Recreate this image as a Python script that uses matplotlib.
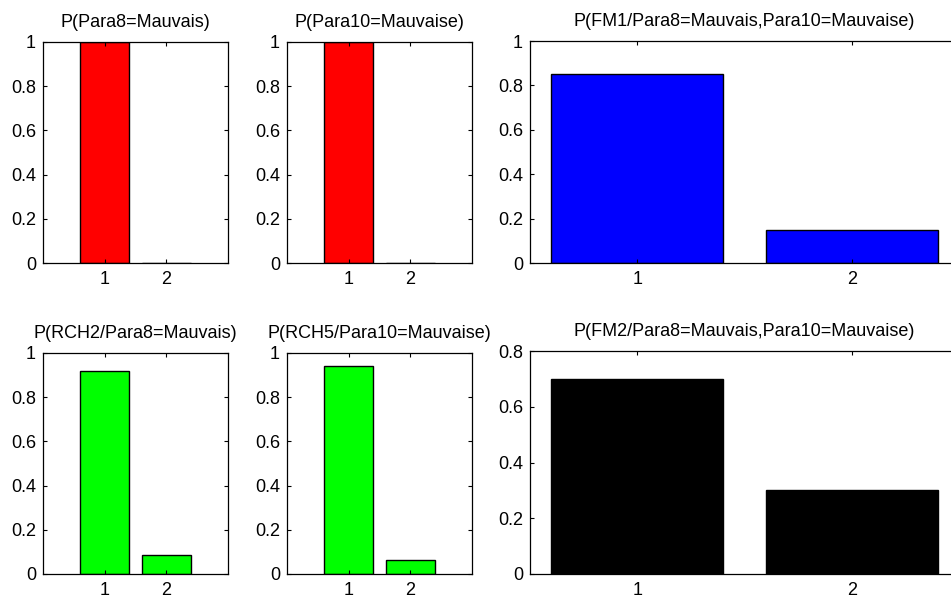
import matplotlib
matplotlib.use("Agg")
import matplotlib.pyplot as plt
from matplotlib.ticker import FuncFormatter

# data
states = [1, 2]
p_para8 = [1.0, 0.0]
p_para10 = [1.0, 0.0]
p_fm1 = [0.85, 0.15]
p_rch2 = [0.92, 0.085]
p_rch5 = [0.94, 0.065]
p_fm2 = [0.70, 0.30]

titles = ["P(Para8=Mauvais)", "P(Para10=Mauvaise)",
          "P(FM1/Para8=Mauvais,Para10=Mauvaise)",
          "P(RCH2/Para8=Mauvais)", "P(RCH5/Para10=Mauvaise)",
          "P(FM2/Para8=Mauvais,Para10=Mauvaise)"]

plt.rcParams['font.family'] = ['Liberation Sans', 'DejaVu Sans']
plt.rcParams['font.size'] = 13

W, H = 951, 599
fig = plt.figure(figsize=(W / 100, H / 100), dpi=100)


def px_axes(x0, y0, x1, y1):
    # pixel box (top-left origin) -> figure fraction
    return fig.add_axes([x0 / W, 1 - y1 / H, (x1 - x0) / W, (y1 - y0) / H])


def fmt(v, pos):
    return "%g" % round(v, 2)


def draw(ax, vals, color, title, xlim, ylim):
    ax.bar(states, vals, width=0.8, color=color, edgecolor='black', linewidth=1.0)
    ax.set_xlim(*xlim)
    ax.set_ylim(*ylim)
    ax.set_xticks(states)
    ax.yaxis.set_major_formatter(FuncFormatter(fmt))
    ax.tick_params(direction='in', length=3, top=True, right=True, width=0.8,
                   labelsize=13)
    ax.tick_params(axis='y', pad=5)
    ax.tick_params(axis='x', pad=6)
    for s in ax.spines.values():
        s.set_linewidth(0.9)
    ax.set_title(title, fontsize=13, pad=11)


ax1 = px_axes(43, 42, 228, 263)
draw(ax1, p_para8, '#ff0000', titles[0], (0, 3), (0, 1))
ax1.set_yticks([0, 0.2, 0.4, 0.6, 0.8, 1])

ax2 = px_axes(287, 42, 472, 263)
draw(ax2, p_para10, '#ff0000', titles[1], (0, 3), (0, 1))
ax2.set_yticks([0, 0.2, 0.4, 0.6, 0.8, 1])

ax3 = px_axes(530, 41, 959, 263)
draw(ax3, p_fm1, '#0000ff', titles[2], (0.5, 2.5), (0, 1))
ax3.set_yticks([0, 0.2, 0.4, 0.6, 0.8, 1])

ax4 = px_axes(43, 353, 228, 574)
draw(ax4, p_rch2, '#00ff00', titles[3], (0, 3), (0, 1))
ax4.set_yticks([0, 0.2, 0.4, 0.6, 0.8, 1])

ax5 = px_axes(287, 353, 472, 574)
draw(ax5, p_rch5, '#00ff00', titles[4], (0, 3), (0, 1))
ax5.set_yticks([0, 0.2, 0.4, 0.6, 0.8, 1])

ax6 = px_axes(530, 351, 959, 574)
draw(ax6, p_fm2, '#000000', titles[5], (0.5, 2.5), (0, 0.8))
ax6.set_yticks([0, 0.2, 0.4, 0.6, 0.8])

fig.savefig("out.png", dpi=100)
